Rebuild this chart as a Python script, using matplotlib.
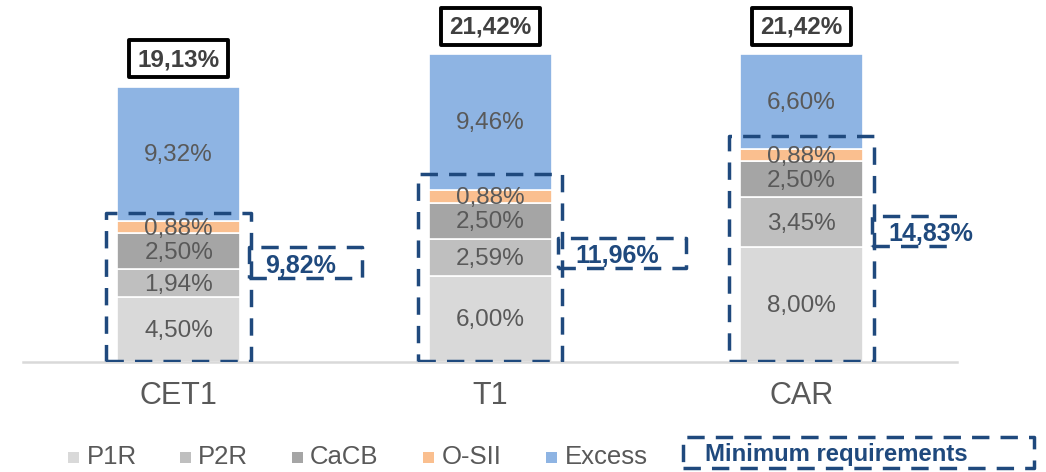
import matplotlib
matplotlib.use("Agg")
import matplotlib.pyplot as plt
from matplotlib.patches import Rectangle
import numpy as np

plt.rcParams['font.family'] = ['Liberation Sans', 'DejaVu Sans']

# Capital ratios (%) by component
categories = ["CET1", "T1", "CAR"]
series_names = ["P1R", "P2R", "CaCB", "O-SII", "Excess"]
p1r = [4.50, 6.00, 8.00]
p2r = [1.94, 2.59, 3.45]
cacb = [2.50, 2.50, 2.50]
osii = [0.88, 0.88, 0.88]
excess = [9.32, 9.46, 6.60]
totals = [19.13, 21.42, 21.42]
min_req = [9.82, 11.96, 14.83]

colors = ["#d9d9d9", "#bfbfbf", "#a5a5a5", "#fabf8f", "#8eb4e3"]
navy = "#1f497d"
label_grey = "#595959"
dash = (0, (5.0, 3.2))

# layout helpers (data units)
frame_pad = [0.55, 1.1, 0.9]          # space above the requirement stack
note_y = [6.92, 7.6, 9.14]            # vertical centre of the side boxes
note_x0 = [0.226, 0.218, 0.228]
note_x1 = [0.589, 0.630, 0.633]


def pct(v):
    return f"{v:.2f}%".replace(".", ",")


fig = plt.figure(figsize=(10.46, 4.72), dpi=100)
ax = fig.add_axes([0.022, 0.233, 0.893, 0.731])
x = np.arange(len(categories))
width = 0.395

bottom = np.zeros(len(categories))
for vals, c in zip([p1r, p2r, cacb, osii, excess], colors):
    vals = np.array(vals)
    ax.bar(x, vals, width, bottom=bottom, color=c, edgecolor="white",
           linewidth=1.2, zorder=2)
    for xi, v, b in zip(x, vals, bottom):
        ax.text(xi, b + v / 2 - 0.1, pct(v), ha="center", va="center",
                fontsize=17.5, color=label_grey, zorder=4)
    bottom += vals

# total labels in framed boxes
for xi, t in zip(x, totals):
    bw, bh = 0.318, 2.57
    yc = t + 1.95
    ax.add_patch(Rectangle((xi - bw / 2, yc - bh / 2), bw, bh, facecolor="white",
                           edgecolor="black", linewidth=2.8, joinstyle="round",
                           zorder=5, clip_on=False))
    ax.text(xi, yc - 0.1, pct(t), ha="center", va="center", fontsize=17.5,
            fontweight="bold", color="#404040", zorder=6, clip_on=False)

# minimum requirement frames and their side boxes
for i, (xi, m) in enumerate(zip(x, min_req)):
    hw = 0.232
    ax.add_patch(Rectangle((xi - hw, 0.05), 2 * hw, m + frame_pad[i] - 0.05,
                           fill=False, edgecolor=navy, linewidth=2.5,
                           linestyle=dash, joinstyle="round", zorder=6))
    x0, x1 = xi + note_x0[i], xi + note_x1[i]
    h = 2.1
    ax.add_patch(Rectangle((x0, note_y[i] - h / 2), x1 - x0, h, fill=False,
                           edgecolor=navy, linewidth=2.5, linestyle=dash,
                           joinstyle="round", zorder=6))
    ax.text((x0 + x1) / 2 - 0.015, note_y[i] - 0.22, pct(m), ha="center",
            va="center", fontsize=18, fontweight="bold", color=navy, zorder=7)

ax.set_xlim(-0.5, 2.5)
ax.set_ylim(0, 24)
ax.set_xticks(x, categories)
ax.tick_params(axis="x", length=0, pad=14, labelsize=22, labelcolor=label_grey)
ax.set_yticks([])
for s in ["top", "right", "left"]:
    ax.spines[s].set_visible(False)
ax.spines["bottom"].set_color("#d9d9d9")
ax.spines["bottom"].set_linewidth(1.8)

# legend
W, H = 1046, 472
legend_pos = [(68, 87), (180, 198), (292, 310), (423, 442), (546, 565)]
ly = 457
for (mx, tx), name, c in zip(legend_pos, series_names, colors):
    fig.patches.append(Rectangle((mx / W, 1 - (ly + 6) / H), 11 / W, 11 / H,
                                 transform=fig.transFigure, facecolor=c,
                                 edgecolor="none"))
    fig.text(tx / W, 1 - ly / H, name, ha="left", va="center", fontsize=18.5,
             color=label_grey)

fig.patches.append(Rectangle((683 / W, 1 - 468 / H), 351 / W, 31 / H,
                             transform=fig.transFigure, fill=False,
                             edgecolor=navy, linewidth=2.5, linestyle=dash,
                             joinstyle="round"))
fig.text(705 / W, 1 - 454 / H, "Minimum requirements", ha="left", va="center",
         fontsize=17.2, fontweight="bold", color=navy)

fig.savefig("out.png", dpi=100)
